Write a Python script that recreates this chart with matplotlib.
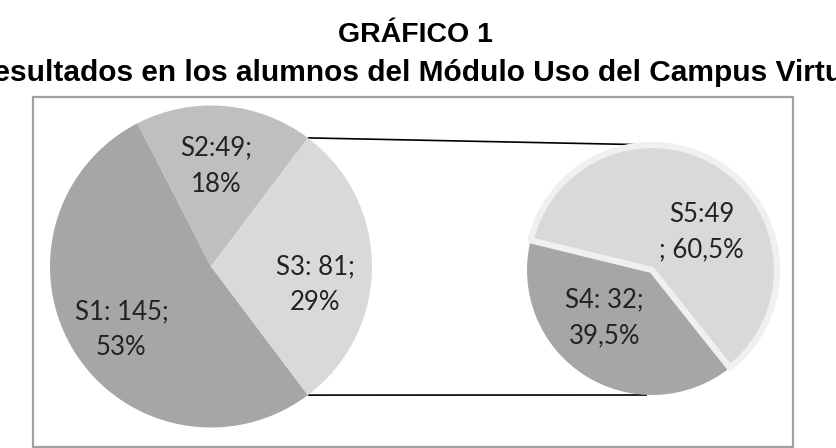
#!/usr/bin/env python3
# -*- coding: utf-8 -*-
"""
Pie of pie chart: GRÁFICO 1
"""

# =========================
# Imports
# =========================
import numpy as np
import matplotlib
matplotlib.use("Agg")
import matplotlib.pyplot as plt
from matplotlib.patches import Rectangle

# =========================
# Data
# =========================
main_labels = ["S1", "S2", "S3"]
main_values = [145, 49, 81]
main_texts = ["S1: 145;\n53%", "S2:49;\n18%", "S3: 81;\n29%"]

sub_labels = ["S4", "S5"]
sub_values = [32, 49]
sub_texts = ["S4: 32;\n39,5%", "S5:49\n; 60,5%"]

TITLE = "GRÁFICO 1"
SUBTITLE = "Resultados en los alumnos del Módulo Uso del Campus Virtual"

# =========================
# Style constants (pixel space, y up)
# =========================
W, H = 837, 448
MAIN_COLORS = ["#a6a6a6", "#bfbfbf", "#d9d9d9"]
SUB_COLORS = ["#a6a6a6", "#d9d9d9"]
MAIN_CENTER = (211, H - 266.5)
MAIN_RADIUS = 161
SUB_CENTER = (652, H - 270)
SUB_RADIUS = 125
SUB_START = -51.5
# (distance as fraction of radius, angle shift from wedge middle)
MAIN_LABEL_POS = [(0.68, 3), (0.625, 2), (0.656, -10)]
SUB_LABEL_POS = [(0.54, -12), (0.50, -20)]
LABEL_FONT = ["Lato", "DejaVu Sans"]
TITLE_FONT = ["Liberation Sans", "DejaVu Sans"]


# =========================
# Helper Functions
# =========================
def draw_pie(ax, values, colors, center, radius, startangle, texts, label_pos):
    """
    Draw one pie (clockwise) and put its labels inside the wedges
    """
    wedges, _ = ax.pie(values, colors=colors, center=center, radius=radius,
                       startangle=startangle, counterclock=False,
                       wedgeprops=dict(linewidth=0), frame=True)
    for w, txt, (dist, shift) in zip(wedges, texts, label_pos):
        ang = np.deg2rad((w.theta1 + w.theta2) / 2 + shift)
        x = center[0] + dist * radius * np.cos(ang)
        y = center[1] + dist * radius * np.sin(ang)
        ax.text(x, y, txt, ha="center", va="center", fontsize=18.5,
                family=LABEL_FONT, color="#222222", linespacing=1.55,
                multialignment="center", zorder=5)
    return wedges


def main():
    fig = plt.figure(figsize=(W / 100, H / 100), dpi=100)
    ax = fig.add_axes([0, 0, 1, 1])

    # main pie, S3 centred on the right
    s3_share = main_values[2] / sum(main_values) * 360
    main_wedges = draw_pie(ax, main_values, MAIN_COLORS, MAIN_CENTER,
                           MAIN_RADIUS, -s3_share / 2, main_texts,
                           MAIN_LABEL_POS)

    # secondary pie
    sub_wedges = draw_pie(ax, sub_values, SUB_COLORS, SUB_CENTER, SUB_RADIUS,
                          SUB_START, sub_texts, SUB_LABEL_POS)
    s5 = sub_wedges[1]
    s5.set_edgecolor("#f0f0f0")
    s5.set_linewidth(4.5)
    s5.set_joinstyle("round")

    # connector lines from S3 edges to the small pie
    s3 = main_wedges[2]
    for theta, sign in [(s3.theta2, 1), (s3.theta1, -1)]:
        a = np.deg2rad(theta)
        x0 = MAIN_CENTER[0] + MAIN_RADIUS * np.cos(a)
        y0 = MAIN_CENTER[1] + MAIN_RADIUS * np.sin(a)
        x1 = SUB_CENTER[0] + 5 * sign
        y1 = SUB_CENTER[1] + sign * SUB_RADIUS
        ax.plot([x0, x1], [y0, y1], color="black", lw=1.2, zorder=0.5,
                solid_capstyle="butt")

    # outer frame
    ax.add_patch(Rectangle((33, H - 447), 760, 350, fill=False,
                           edgecolor="#a0a0a0", lw=1.6, zorder=0))

    ax.set_xlim(0, W)
    ax.set_ylim(0, H)
    ax.set_aspect("equal")
    ax.set_axis_off()

    fig.text(415 / W, (H - 42) / H, TITLE, ha="center", va="baseline",
             fontsize=20.5, fontweight="bold", family=TITLE_FONT)
    # the subtitle is wider than the figure in the original, cut at both sides
    fig.text(420 / W, (H - 81) / H, SUBTITLE, ha="center", va="baseline",
             fontsize=21.5, fontweight="bold", family=TITLE_FONT)

    fig.savefig("out.png", dpi=100)


# =========================
# Entry Point
# =========================
if __name__ == "__main__":
    main()
